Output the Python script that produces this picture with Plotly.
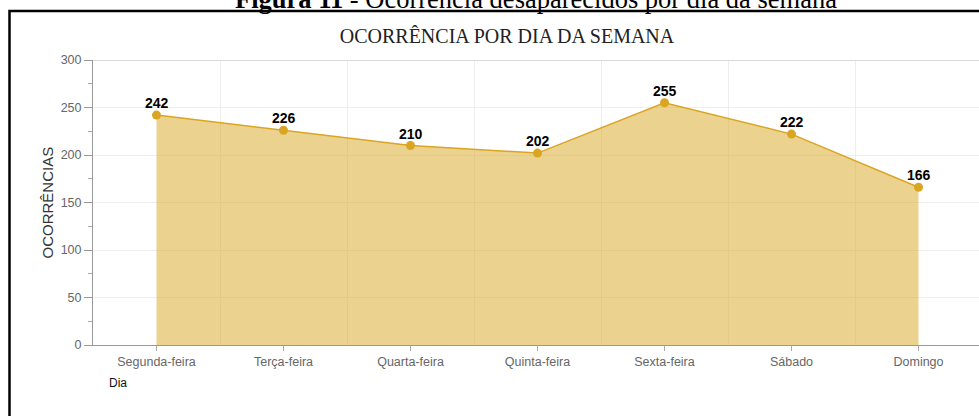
import plotly.graph_objects as go

days = ["Segunda-feira", "Terça-feira", "Quarta-feira", "Quinta-feira",
        "Sexta-feira", "Sábado", "Domingo"]
ocorrencias = [242, 226, 210, 202, 255, 222, 166]
y_ticks = [0, 50, 100, 150, 200, 250, 300]

positions = list(range(len(days)))

W, H = 979, 416
L, R, T, B = 93, 0, 60, 71
PW = W - L - R
PH = H - T - B


def px(xp):
    return (xp - L) / PW


def py(yp):
    return (H - B - yp) / PH


fig = go.Figure()
fig.add_trace(go.Scatter(
    x=positions,
    y=ocorrencias,
    mode="lines+markers",
    fill="tozeroy",
    fillcolor="rgba(218,165,32,0.5)",
    line=dict(color="#daa520", width=1.5),
    marker=dict(color="#daa520", size=9),
    hoverinfo="skip",
    cliponaxis=False,
))

value_labels = [
    dict(x=xv, y=yv, xref="x", yref="y", text=str(yv), showarrow=False,
         xanchor="center", yanchor="middle", yshift=12,
         font=dict(family="Liberation Sans", size=14, color="#000000", weight="bold"))
    for xv, yv in zip(positions, ocorrencias)
]

fig.update_layout(
    width=W, height=H,
    margin=dict(l=L, r=R, t=T, b=B),
    paper_bgcolor="white",
    plot_bgcolor="white",
    showlegend=False,
    title=dict(
        text="OCORRÊNCIA POR DIA DA SEMANA",
        x=507 / W, xanchor="center",
        y=1 - 36 / H, yanchor="middle",
        font=dict(family="Liberation Serif", size=20, color="#222222"),
    ),
    xaxis=dict(
        range=[-0.5, -0.5 + PW / 127],
        tickmode="array",
        tickvals=positions,
        ticktext=days,
        ticks="outside", ticklen=5, tickcolor="#aaaaaa",
        showline=True, linecolor="#999999", linewidth=1,
        showgrid=False, zeroline=False,
        tickfont=dict(family="Liberation Sans", size=12.5, color="#666666"),
        minor=dict(tick0=0.5, dtick=1, showgrid=True, gridcolor="#eeeeee",
                   gridwidth=1, ticks=""),
    ),
    yaxis=dict(
        range=[0, 300],
        tickmode="array",
        tickvals=y_ticks,
        ticks="outside", ticklen=8, tickcolor="#999999",
        showline=True, linecolor="#999999", linewidth=1,
        showgrid=True, gridcolor="#eeeeee", gridwidth=1,
        zeroline=False,
        tickfont=dict(family="Liberation Sans", size=12.5, color="#666666"),
        minor=dict(dtick=25, ticks="outside", ticklen=4, tickcolor="#aaaaaa",
                   showgrid=False),
    ),
    shapes=[
        dict(type="line", xref="paper", yref="y", x0=0, x1=1, y0=300, y1=300,
             line=dict(color="#cccccc", width=1.5), layer="above"),
        dict(type="rect", xref="paper", yref="paper",
             x0=px(9.5), x1=px(990), y0=py(11), y1=py(430),
             line=dict(color="#000000", width=2.5), fillcolor="rgba(0,0,0,0)"),
    ],
    annotations=value_labels + [
        dict(text="<b>Figura 11</b> - Ocorrência desaparecidos por dia da semana",
             xref="paper", yref="paper", x=px(536), y=py(-1),
             xanchor="center", yanchor="middle", showarrow=False,
             font=dict(family="Liberation Serif", size=26.5, color="#000000")),
        dict(text="OCORRÊNCIAS", xref="paper", yref="paper",
             x=px(47), y=0.5, xanchor="center", yanchor="middle",
             textangle=-90, showarrow=False,
             font=dict(family="Liberation Sans", size=15, color="#333333")),
        dict(text="Dia", xref="paper", yref="paper",
             x=px(107), y=py(383), xanchor="left", yanchor="middle",
             showarrow=False,
             font=dict(family="Liberation Sans", size=12, color="#111111")),
    ],
)

fig.write_html(
    "out.html",
    config={"displayModeBar": False},
    post_script="document.body.style.margin='0px';document.body.style.overflow='hidden';",
)
